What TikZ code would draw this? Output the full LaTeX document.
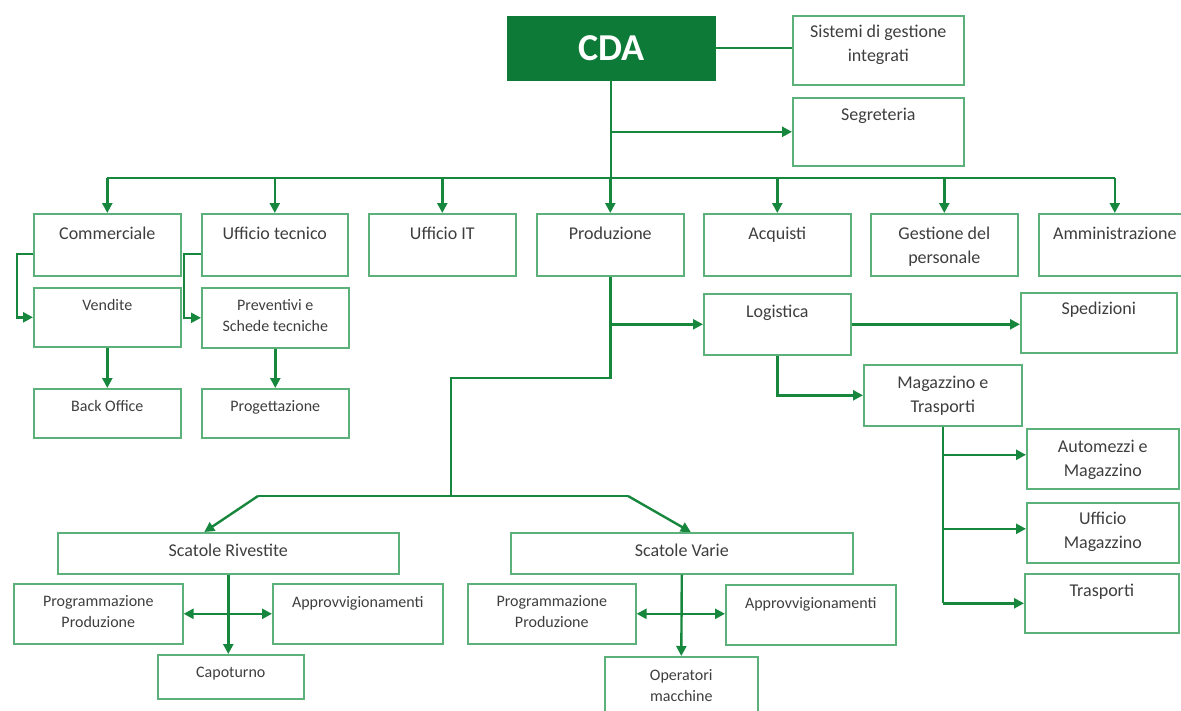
\documentclass[tikz,border=0pt]{standalone}
\usepackage{fontspec}
\setmainfont{Carlito}
\usetikzlibrary{positioning,
        arrows.meta}
\usepackage{xcolor}
\definecolor{orgdark}{RGB}{14,122,56}
\definecolor{orgline}{RGB}{24,135,62}
\definecolor{orgborder}{RGB}{92,176,122}
\definecolor{txtgray}{RGB}{62,62,62}
\newcommand{\unittext}[4][23pt]{\parbox[c][#3][t]{#2}{\centering\rule{0pt}{#1}#4}}

\begin{document}
\begin{tikzpicture}[x=1pt,y=-1pt,
    unit/.style={draw=orgborder,line width=1.6pt,inner sep=0pt,anchor=north west,text=txtgray,font=\fontsize{18}{24}\selectfont},
    small/.style={font=\fontsize{16}{21}\selectfont},
    link/.style={draw=orgline,line width=2.4pt},
    arr/.style={link,-{Triangle[length=10pt,width=10pt]}},
    arrboth/.style={link,{Triangle[length=10pt,width=10pt]}-{Triangle[length=10pt,width=10pt]}}]
            \useasboundingbox (0,0) rectangle (1181,710);
            % vertice
            \node [fill=orgdark,draw=orgdark,anchor=north west,minimum width=208pt,minimum height=64pt,text=white,font=\fontsize{38}{40}\selectfont\bfseries] (cda) at (507,16) {CDA};
            \node [unit] (sgi) at (792,15) {\unittext[22pt]{171pt}{69pt}{Sistemi di gestione\\integrati}};
            \node [unit] (segr) at (792,97) {\unittext{171pt}{68pt}{Segreteria}};
            % funzioni
            \node [unit] (comm) at (33,213) {\unittext[26pt]{147pt}{62pt}{Commerciale}};
            \node [unit] (utec) at (201,213) {\unittext[26pt]{146pt}{62pt}{Ufficio tecnico}};
            \node [unit] (uit) at (368,213) {\unittext[26pt]{147pt}{62pt}{Ufficio IT}};
            \node [unit] (prod) at (536,213) {\unittext[26pt]{147pt}{62pt}{Produzione}};
            \node [unit] (acq) at (703,213) {\unittext[26pt]{147pt}{62pt}{Acquisti}};
            \node [unit] (gper) at (870,213) {\unittext[26pt]{147pt}{62pt}{Gestione del\\personale}};
            \node [unit] (amm) at (1038,213) {\unittext[26pt]{152pt}{62pt}{Amministrazione}};
            \node [unit,small] (vend) at (33,287) {\unittext{147pt}{59pt}{Vendite}};
            \node [unit,small] (prev) at (201,287) {\unittext{147pt}{60pt}{Preventivi e\\Schede tecniche}};
            \node [unit,small] (back) at (33,388) {\unittext{147pt}{49pt}{Back Office}};
            \node [unit,small] (prog) at (201,388) {\unittext{147pt}{49pt}{Progettazione}};
            % logistica
            \node [unit] (logi) at (703,293) {\unittext[24pt]{147pt}{61pt}{Logistica}};
            \node [unit] (sped) at (1020,292) {\unittext[22pt]{156pt}{60pt}{Spedizioni}};
            \node [unit] (magt) at (863,364) {\unittext[24pt]{158pt}{61pt}{Magazzino e\\Trasporti}};
            \node [unit] (auto) at (1026,428) {\unittext[24pt]{152pt}{60pt}{Automezzi e\\Magazzino}};
            \node [unit] (umag) at (1026,502) {\unittext[22pt]{152pt}{60pt}{Ufficio\\Magazzino}};
            \node [unit] (tras) at (1024,573) {\unittext{154pt}{59pt}{Trasporti}};
            % produzione
            \node [unit] (scr) at (57,532) {\unittext[24pt]{341pt}{41pt}{Scatole Rivestite}};
            \node [unit,small] (ppr) at (13,583) {\unittext{169pt}{60pt}{Programmazione\\Produzione}};
            \node [unit,small] (apr) at (272,583) {\unittext[24pt]{170pt}{60pt}{Approvvigionamenti}};
            \node [unit,small] (capo) at (157,654) {\unittext{146pt}{44pt}{Capoturno}};
            \node [unit] (scv) at (510,532) {\unittext[24pt]{342pt}{41pt}{Scatole Varie}};
            \node [unit,small] (ppv) at (467,583) {\unittext{168pt}{60pt}{Programmazione\\Produzione}};
            \node [unit,small] (apv) at (725,584) {\unittext[24pt]{170pt}{60pt}{Approvvigionamenti}};
            \node [unit,small] (oper) at (604,656) {\unittext[24pt]{153pt}{60pt}{Operatori\\macchine}};

            \coordinate (bus) at (0,178);
            \coordinate (pjoin) at (451,378);
            \coordinate (sbus) at (451,496);
            \coordinate (sL) at (258,496);
            \coordinate (sR) at (628,496);

            \draw [link] (cda.east) -- (cda.east -| sgi.west);
            \draw [link] (cda.south) -- (cda.south |- bus);
            \draw [arr] (cda.south |- segr.west) -- (segr.west);
            \draw [link] (comm.north |- bus) -- (amm.north |- bus);
            \foreach \u in {comm,utec,uit,prod,acq,gper,amm}
                \draw [arr] (\u.north |- bus) -- (\u.north);
            \draw [arr] ([yshift=-9pt]comm.west) -- ++(-16,0) |- (vend.west);
            \draw [arr] ([yshift=-9pt]utec.west) -- ++(-17,0) |- (prev.west);
            \draw [arr] (vend.south) -- (back.north);
            \draw [arr] (prev.south) -- (prog.north);
            \draw [link] (prod.south) |- (pjoin) -- (sbus);
            \draw [arr] (prod.south |- logi.west) -- (logi.west);
            \draw [link] (sL) -- (sR);
            \draw [arr] (sL) -- ([xshift=-24pt]scr.north);
            \draw [arr] (sR) -- ([xshift=9pt]scv.north);
            \draw [arr] (logi.east) -- (logi.east -| sped.west);
            \draw [arr] (logi.south) |- (magt.west);
            \draw [link] (magt.south) -- (magt.south |- tras.west);
            \foreach \u in {auto,umag}
                \draw [arr] ([yshift=4pt]magt.south |- \u.west) -- ([yshift=4pt]\u.west);
            \draw [arr] (magt.south |- tras.west) -- (tras.west);
            \draw [arr] (scr.south) -- (scr.south |- capo.north);
            \draw [arrboth] (ppr.east) -- (apr.west);
            \draw [arr] (scv.south) -- (oper.north);
            \draw [arrboth] (ppv.east) -- (ppv.east -| apv.west);
        \end{tikzpicture}
\end{document}
